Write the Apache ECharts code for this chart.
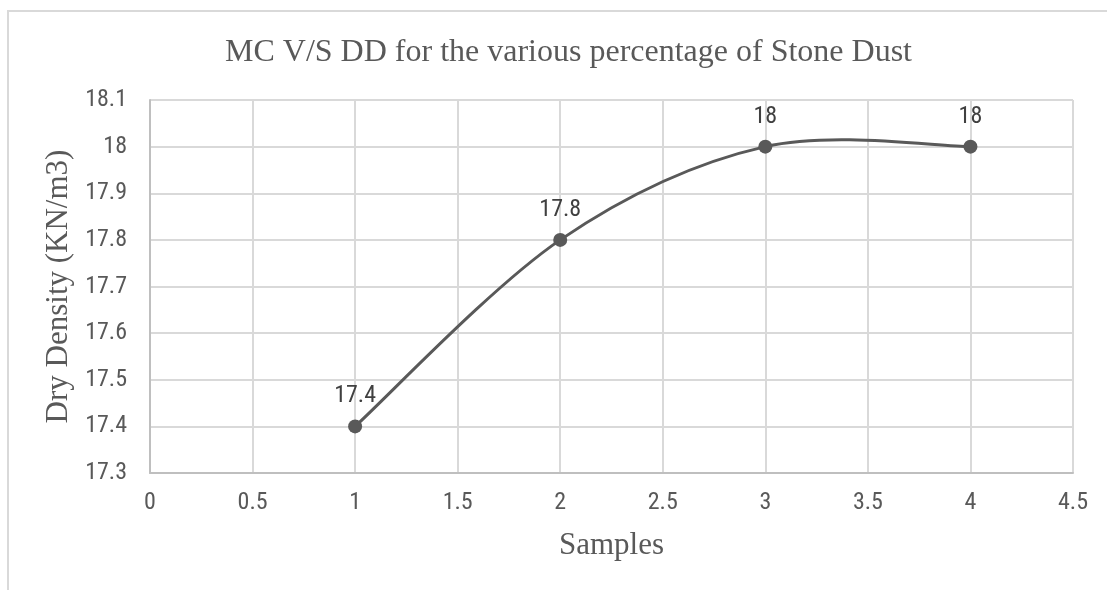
<!DOCTYPE html>
<html><head><meta charset="utf-8">
<script src="https://cdn.jsdelivr.net/npm/echarts@6/dist/echarts.min.js"></script>
<style>html,body{margin:0;padding:0;background:#fff}#frame{position:absolute;left:7px;top:10px;width:1200px;height:700px;border:2px solid #d9d9d9;box-sizing:border-box}#c{position:absolute;left:0;top:0;width:1107px;height:590px}</style>
</head><body><div id="frame"></div><div id="c"></div>
<script>
const titleText = "MC V/S DD for the various percentage of Stone Dust";
const xName = "Samples";
const yName = "Dry Density (KN/m3)";
const samples = [1, 2, 3, 4];
const dryDensity = [17.4, 17.8, 18, 18];

const chart = echarts.init(document.getElementById('c'));
const tickFont = '"Roboto Condensed", "DejaVu Sans Condensed", Roboto, sans-serif';
const serif = '"Liberation Serif", "Times New Roman", serif';
const pts = samples.map((x, i) => [x, dryDensity[i]]);

// Excel-style smoothed segment (Catmull-Rom -> cubic Bezier), via axis coords
function renderSegment(params, api) {
  const i = params.dataIndex;
  const n = pts.length;
  if (i >= n - 1) return null;
  const c = k => api.coord(pts[Math.max(0, Math.min(n - 1, k))]);
  const p0 = c(i - 1), p1 = c(i), p2 = c(i + 1), p3 = c(i + 2);
  return {
    type: 'bezierCurve',
    shape: {
      x1: p1[0], y1: p1[1], x2: p2[0], y2: p2[1],
      cpx1: p1[0] + (p2[0] - p0[0]) / 6, cpy1: p1[1] + (p2[1] - p0[1]) / 6,
      cpx2: p2[0] - (p3[0] - p1[0]) / 6, cpy2: p2[1] - (p3[1] - p1[1]) / 6
    },
    style: {stroke: '#595959', lineWidth: 3, fill: null, lineCap: 'round'}
  };
}

chart.setOption({
  animation: false,
  title: {text: titleText, left: 220, top: 32, textStyle: {fontFamily: serif, fontSize: 32, fontWeight: 'normal', color: '#595959'}},
  grid: {left: 150, right: 34, top: 100, bottom: 117},
  xAxis: {type: 'value', min: 0, max: 4.5, interval: 0.5,
    name: xName, nameLocation: 'middle', nameGap: 57,
    nameTextStyle: {fontFamily: serif, fontSize: 31, color: '#595959'},
    axisLine: {show: true, lineStyle: {color: '#bfbfbf', width: 2}},
    axisTick: {show: false},
    axisLabel: {fontFamily: tickFont, fontSize: 24, color: '#595959', margin: 18},
    splitLine: {show: true, lineStyle: {color: '#d9d9d9', width: 2}}},
  yAxis: {type: 'value', min: 17.3, max: 18.1, interval: 0.1,
    name: yName, nameLocation: 'middle', nameGap: 75,
    nameTextStyle: {fontFamily: serif, fontSize: 31, color: '#595959'},
    axisLine: {show: true, lineStyle: {color: '#bfbfbf', width: 2}},
    axisTick: {show: false},
    axisLabel: {fontFamily: tickFont, fontSize: 24, color: '#595959', margin: 23,
      formatter: v => String(Math.round(v * 10) / 10)},
    splitLine: {show: true, lineStyle: {color: '#d9d9d9', width: 2}}},
  series: [
    {type: 'custom', data: pts, renderItem: renderSegment, clip: false, z: 2,
     encode: {x: 0, y: 1}, silent: true},
    {type: 'scatter', data: pts, symbol: 'circle', symbolSize: 14, z: 3,
     itemStyle: {color: '#595959', opacity: 1},
     label: {show: true, position: 'top', distance: 11, fontFamily: tickFont, fontSize: 24, color: '#404040'}}
  ]
});
</script></body></html>
